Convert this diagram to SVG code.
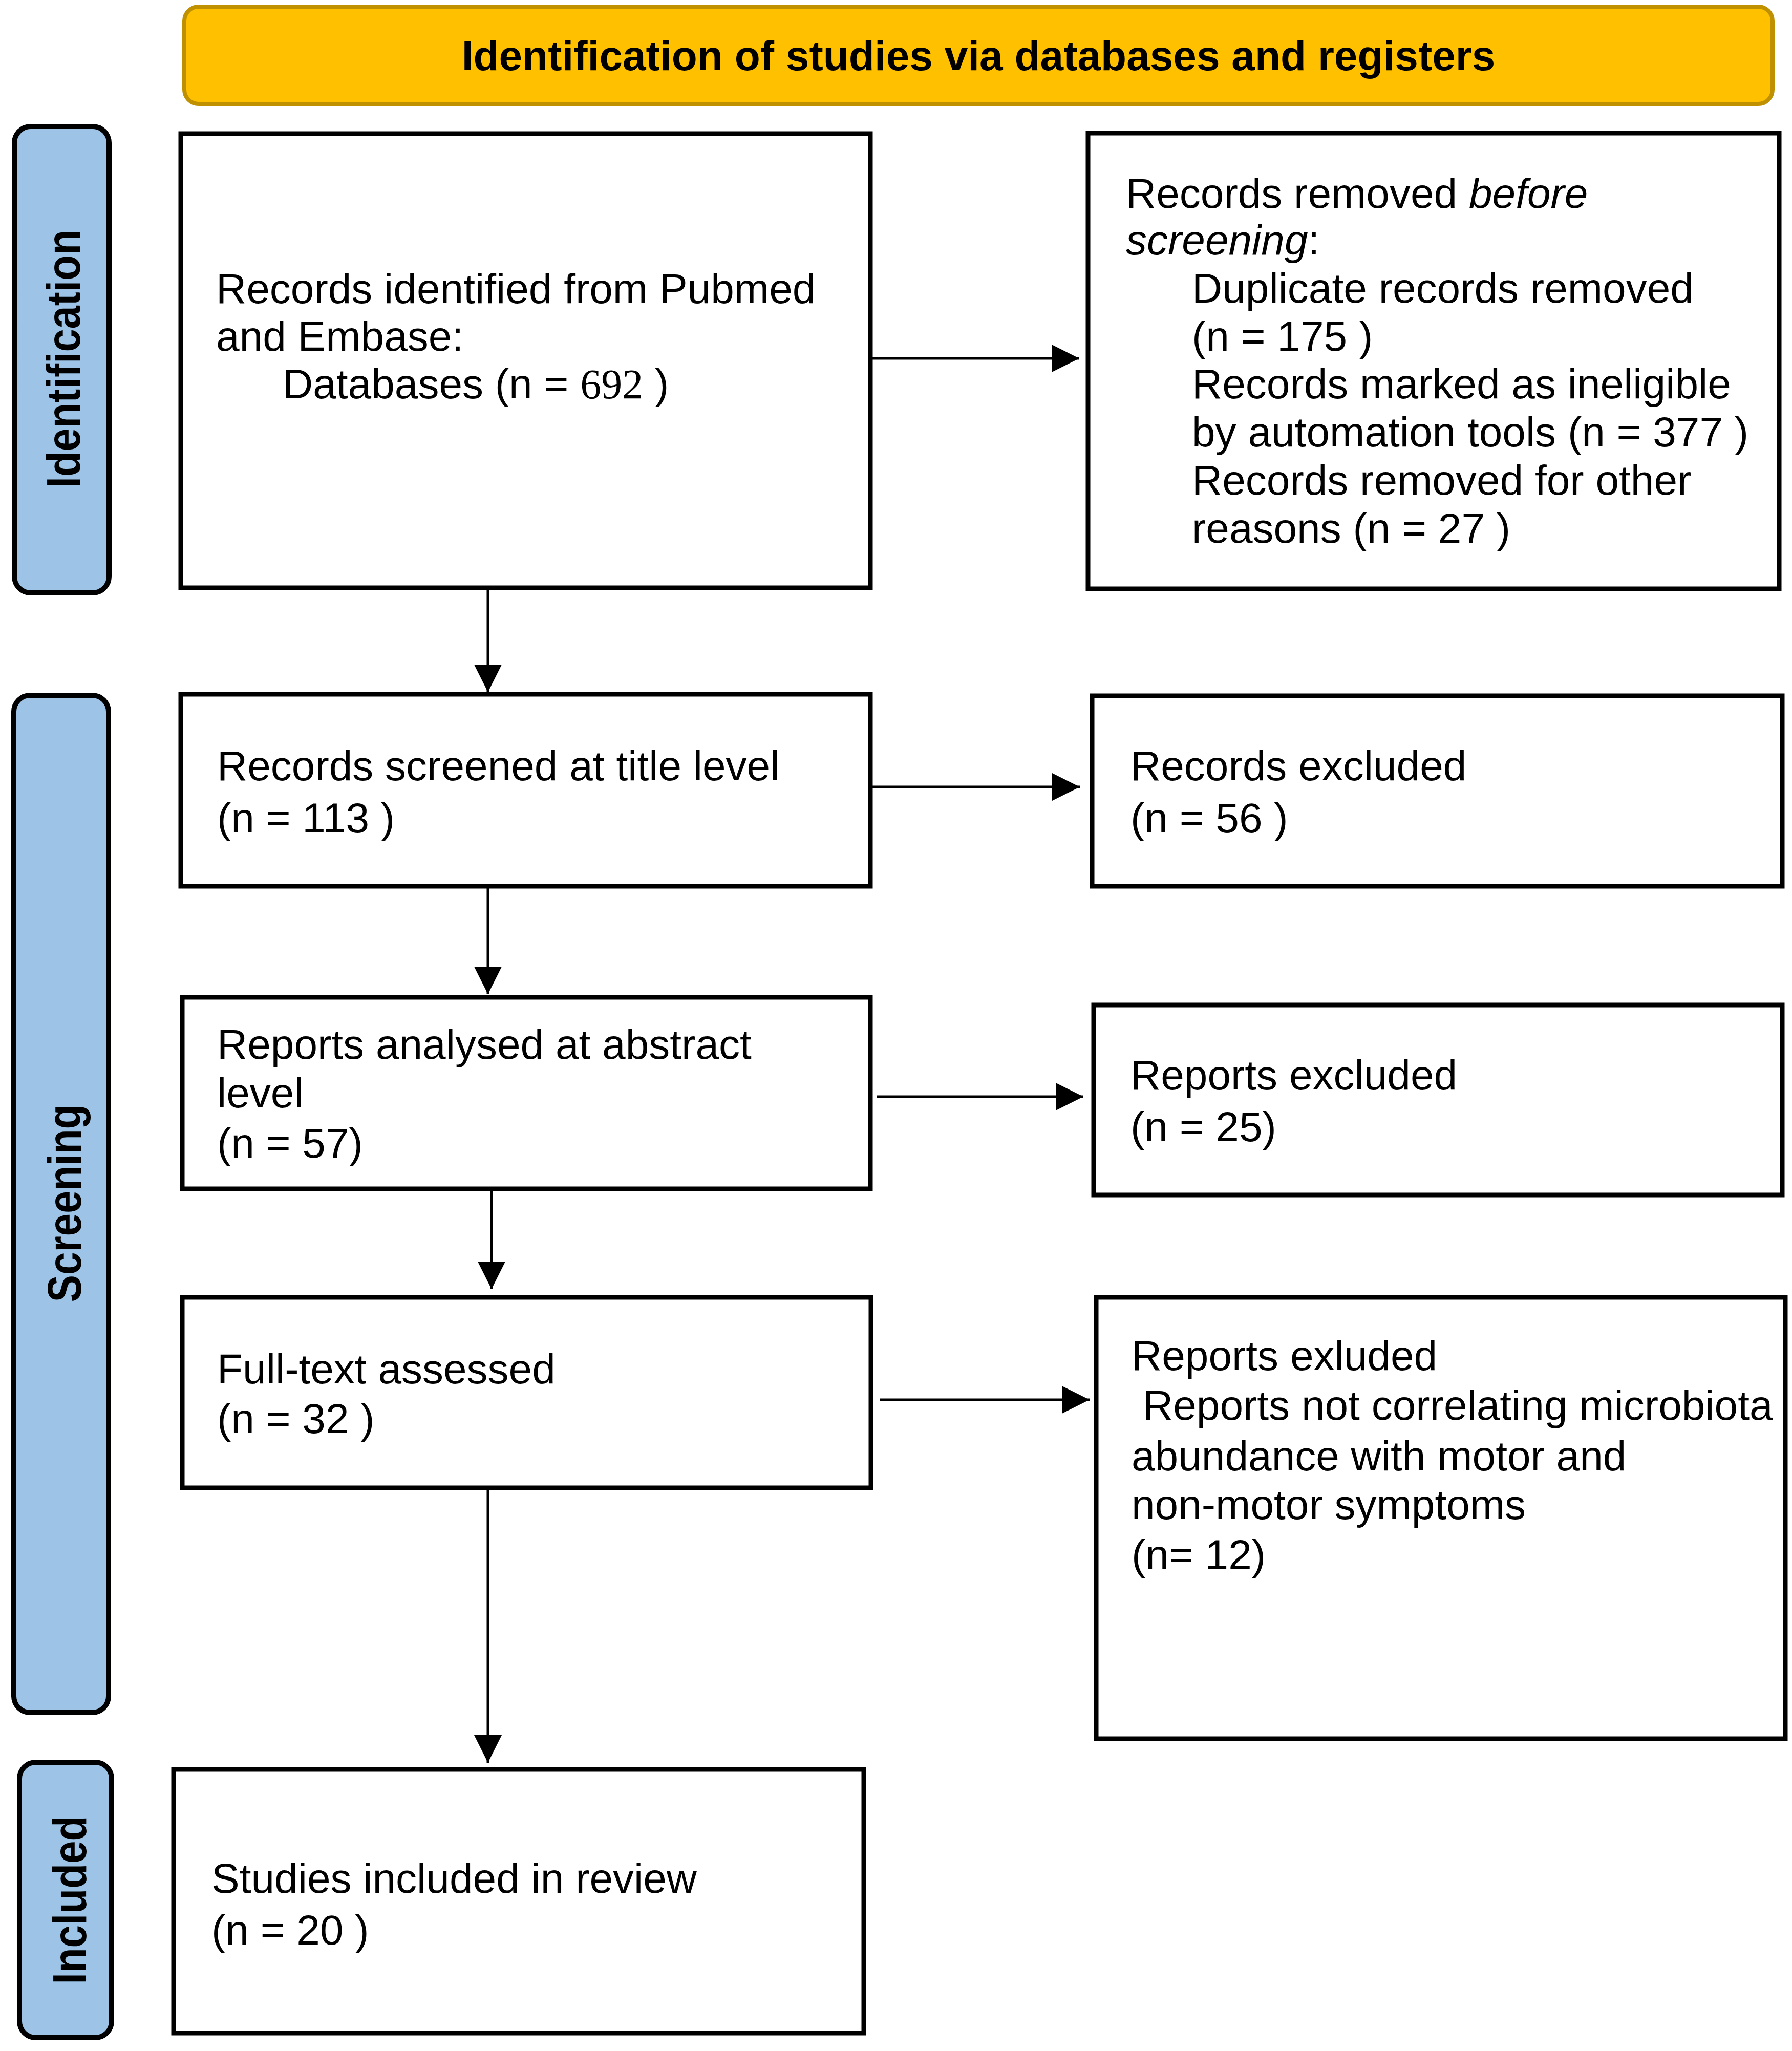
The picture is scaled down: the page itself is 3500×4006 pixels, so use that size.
<svg xmlns="http://www.w3.org/2000/svg" width="3500" height="4006" viewBox="0 0 3500 4006">
<style>
.box{fill:#ffffff;stroke:#000000;stroke-width:9}
.tab{fill:#9DC3E6;stroke:#000000;stroke-width:10}
.t{font-family:"Liberation Sans",Arial,sans-serif;font-size:82px;fill:#000000}
.tabt{font-family:"Liberation Sans",Arial,sans-serif;font-size:92px;font-weight:bold;fill:#000000;text-anchor:middle}
.title{font-family:"Liberation Sans",Arial,sans-serif;font-size:82px;font-weight:bold;fill:#000000;text-anchor:middle}
.conn{stroke:#000000;stroke-width:5;fill:none;marker-end:url(#ah)}
.serif{font-family:"Liberation Serif","Times New Roman",serif}
</style>
<defs>
<marker id="ah" markerUnits="userSpaceOnUse" markerWidth="54" markerHeight="54" refX="54" refY="27" orient="auto">
<path d="M0,0 L54,27 L0,54 Z" fill="#000000"/>
</marker>
</defs>
<rect width="3500" height="4006" fill="#ffffff"/>
<g id="banner">
<rect x="360" y="13" width="3102" height="190" rx="28" fill="#FFC000" stroke="#BF9000" stroke-width="8"/>
<text class="title" x="1911" y="137">Identification of studies via databases and registers</text>
</g>
<g id="tab-identification">
<rect class="tab" x="28" y="247" width="185" height="911" rx="32"/>
<text class="tabt" transform="translate(156,701) rotate(-90)" textLength="505" lengthAdjust="spacingAndGlyphs">Identification</text>
</g>
<g id="tab-screening">
<rect class="tab" x="27" y="1358" width="185" height="1987" rx="32"/>
<text class="tabt" transform="translate(158,2350) rotate(-90)" textLength="387" lengthAdjust="spacingAndGlyphs">Screening</text>
</g>
<g id="tab-included">
<rect class="tab" x="38" y="3442" width="180" height="538" rx="32"/>
<text class="tabt" transform="translate(168,3711) rotate(-90)" textLength="329" lengthAdjust="spacingAndGlyphs">Included</text>
</g>
<g id="connectors">
<line class="conn" x1="1700" y1="700" x2="2108" y2="700"/>
<line class="conn" x1="953" y1="1148" x2="953" y2="1352"/>
<line class="conn" x1="1700" y1="1537" x2="2109" y2="1537"/>
<line class="conn" x1="953" y1="1731" x2="953" y2="1942"/>
<line class="conn" x1="1712" y1="2142" x2="2116" y2="2142"/>
<line class="conn" x1="960" y1="2322" x2="960" y2="2518"/>
<line class="conn" x1="1719" y1="2734" x2="2128" y2="2734"/>
<line class="conn" x1="953" y1="2906" x2="953" y2="3443"/>
</g>
<g id="records-identified">
<rect class="box" x="353" y="261" width="1347" height="887"/>
<text class="t" x="422" y="592">Records identified from Pubmed</text>
<text class="t" x="422" y="685">and Embase:</text>
<text class="t" x="552" y="778">Databases (n = <tspan class="serif">692</tspan> )</text>
</g>
<g id="records-removed">
<rect class="box" x="2125" y="260" width="1350" height="890"/>
<text class="t" x="2199" y="406">Records removed <tspan font-style="italic">before</tspan></text>
<text class="t" x="2199" y="497"><tspan font-style="italic">screening</tspan>:</text>
<text class="t" x="2328" y="591">Duplicate records removed</text>
<text class="t" x="2328" y="685">(n = 175 )</text>
<text class="t" x="2328" y="778">Records marked as ineligible</text>
<text class="t" x="2328" y="872">by automation tools (n = 377 )</text>
<text class="t" x="2328" y="966">Records removed for other</text>
<text class="t" x="2328" y="1060">reasons (n = 27 )</text>
</g>
<g id="records-screened">
<rect class="box" x="353" y="1356" width="1347" height="375"/>
<text class="t" x="424" y="1524">Records screened at title level</text>
<text class="t" x="424" y="1626">(n = 113 )</text>
</g>
<g id="records-excluded">
<rect class="box" x="2133" y="1359" width="1348" height="372"/>
<text class="t" x="2208" y="1524">Records excluded</text>
<text class="t" x="2208" y="1626">(n = 56 )</text>
</g>
<g id="reports-analysed">
<rect class="box" x="356" y="1948" width="1344" height="374"/>
<text class="t" x="424" y="2068">Reports analysed at abstract</text>
<text class="t" x="424" y="2163">level</text>
<text class="t" x="424" y="2261">(n = 57)</text>
</g>
<g id="reports-excluded">
<rect class="box" x="2136" y="1963" width="1345" height="371"/>
<text class="t" x="2208" y="2128">Reports excluded</text>
<text class="t" x="2208" y="2229">(n = 25)</text>
</g>
<g id="full-text">
<rect class="box" x="356" y="2534" width="1345" height="372"/>
<text class="t" x="424" y="2702">Full-text assessed</text>
<text class="t" x="424" y="2799">(n = 32 )</text>
</g>
<g id="reports-exluded">
<rect class="box" x="2141" y="2534" width="1346" height="862"/>
<text class="t" x="2210" y="2676">Reports exluded</text>
<text class="t" x="2232" y="2773">Reports not correlating microbiota</text>
<text class="t" x="2210" y="2872">abundance with motor and</text>
<text class="t" x="2210" y="2967">non-motor symptoms</text>
<text class="t" x="2210" y="3065">(n= 12)</text>
</g>
<g id="studies-included">
<rect class="box" x="339" y="3456" width="1348" height="515"/>
<text class="t" x="413" y="3697">Studies included in review</text>
<text class="t" x="413" y="3798">(n = 20 )</text>
</g>
</svg>
